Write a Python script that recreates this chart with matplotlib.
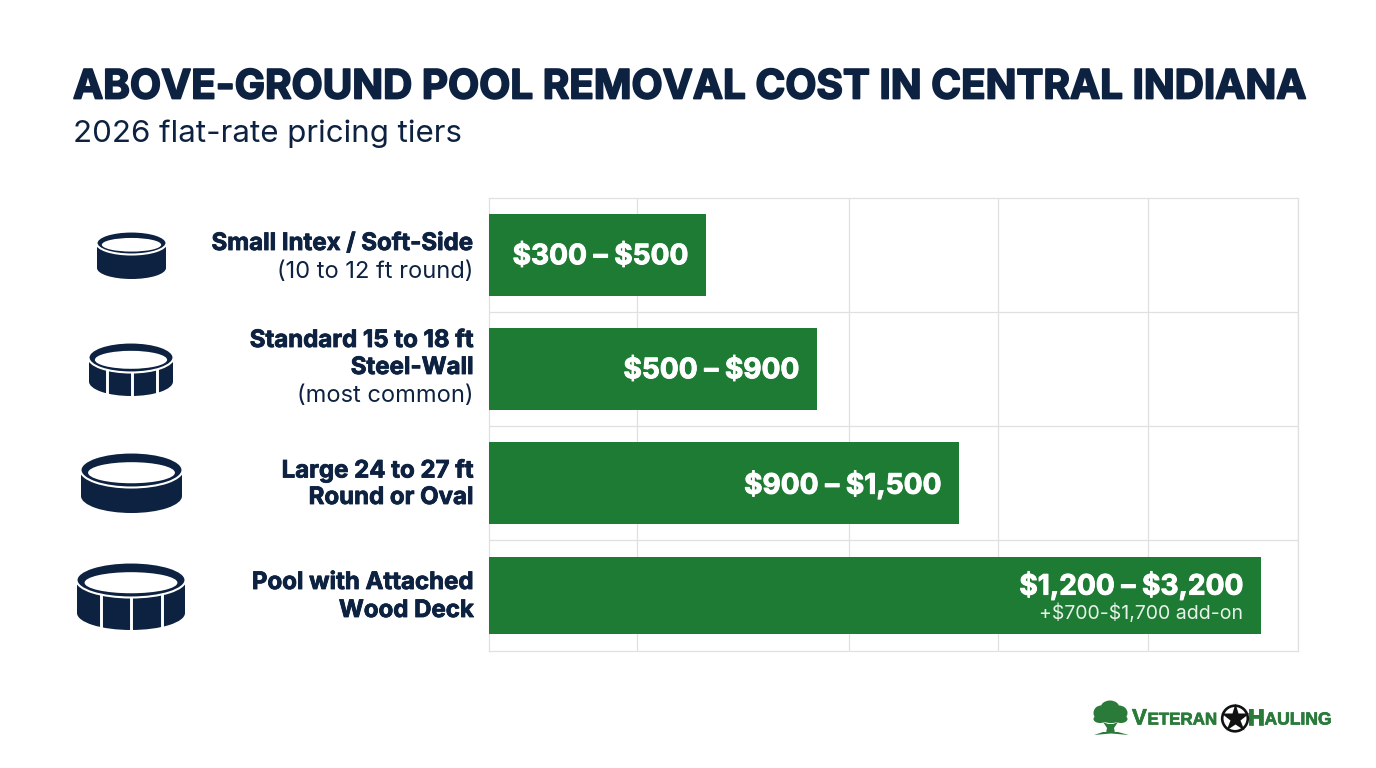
import matplotlib
matplotlib.use("Agg")
import matplotlib.pyplot as plt
import matplotlib.patheffects as pe
from matplotlib.patches import Ellipse, Rectangle, Circle, Polygon

NAVY = "#0D2140"
GREEN = "#1E7B34"
LOGO = "#2A7A3A"
GRID = "#E0E0E0"
plt.rcParams["font.family"] = ["Inter", "Noto Sans", "DejaVu Sans"]
plt.rcParams["text.parse_math"] = False

title = "ABOVE-GROUND POOL REMOVAL COST IN CENTRAL INDIANA"
subtitle = "2026 flat-rate pricing tiers"

# bar lengths on the unlabelled axis, the picture's scale is not linear in dollars
bar_lengths = [217, 328, 470, 772]
row_pos = [0, 1, 2, 2.985]
bar_heights = [0.72, 0.72, 0.72, 0.68]
grid_x = [148, 360, 509, 659, 809]
grid_y = [0.5, 1.5, 2.5]
price_labels = ["$300 – $500", "$500 – $900", "$900 – $1,500", "$1,200 – $3,200"]
addon_label = "+$700-$1,700 add-on"
name_lines = [
    [("Small Intex / Soft-Side", "bold", 244), ("(10 to 12 ft round)", "normal", 272)],
    [("Standard 15 to 18 ft", "bold", 341), ("Steel-Wall", "bold", 368), ("(most common)", "normal", 396)],
    [("Large 24 to 27 ft", "bold", 471), ("Round or Oval", "bold", 498)],
    [("Pool with Attached", "bold", 583), ("Wood Deck", "bold", 611)],
]


def heavy(w, color):
    return [pe.withStroke(linewidth=w, foreground=color)]


fig = plt.figure(figsize=(13.76, 7.68), dpi=100)

# chart area, placed to the pixel
ax = fig.add_axes([489 / 1376, 1 - 651 / 768, 809 / 1376, 453 / 768])
ax.barh(row_pos, bar_lengths, height=bar_heights, color=GREEN, zorder=3)
ax.set_xlim(0, 809)
ax.set_ylim(3.474, -0.5)
ax.set_xticks(grid_x)
ax.set_yticks(grid_y)
ax.grid(True, color=GRID, lw=0.9, zorder=0)
ax.tick_params(length=0, labelbottom=False, labelleft=False)
for s in ax.spines.values():
    s.set_color(GRID)
    s.set_linewidth(0.9)

for i, lab in enumerate(price_labels):
    y = row_pos[i] + 0.015 if i < 3 else row_pos[i] - 0.085
    ax.text(bar_lengths[i] - 18, y, lab, color="white", fontsize=20.2, fontweight="bold",
            ha="right", va="center", zorder=4, path_effects=heavy(0.7, "white"))
ax.text(bar_lengths[3] - 18, row_pos[3] + 0.16, addon_label, color="#E8F2EA",
        fontsize=14, ha="right", va="center", zorder=4)

# overlay in pixel coordinates for the text, icons and logo
ov = fig.add_axes([0, 0, 1, 1], facecolor="none")
ov.set_xlim(0, 1376)
ov.set_ylim(768, 0)
ov.axis("off")

ov.text(73, 88, title, color=NAVY, fontsize=29.1, fontweight="bold", va="center", ha="left",
        path_effects=heavy(1.3, NAVY))
ov.text(73, 134, subtitle, color=NAVY, fontsize=22.5, va="center", ha="left")

for lines in name_lines:
    for txt, weight, y in lines:
        if weight == "bold":
            ov.text(474, y, txt, color=NAVY, fontsize=17.3, fontweight="bold", ha="right", va="center",
                    path_effects=heavy(0.6, NAVY))
        else:
            ov.text(473.5, y, txt, color=NAVY, fontsize=17, ha="right", va="center")


def pool(x0, x1, top, rim_bot, bottom, panels=()):
    cx = (x0 + x1) / 2
    w = x1 - x0
    rim_h = rim_bot - top
    cy = top + rim_h / 2
    ov.add_patch(Ellipse((cx, bottom - rim_h / 2), w, rim_h, fc=NAVY, ec="none"))
    ov.add_patch(Rectangle((x0, cy), w, bottom - rim_h / 2 - cy, fc=NAVY, ec="none"))
    for px in panels:
        ov.plot([px, px], [cy, bottom + 1], color="white", lw=2.1, solid_capstyle="butt")
    ov.add_patch(Ellipse((cx, cy), w + 1, rim_h + 1, fc=NAVY, ec="white", lw=1.5, zorder=3))
    ov.add_patch(Ellipse((cx, cy + rim_h * 0.08), w * 0.86, rim_h * 0.62, fc="white", ec="none", zorder=4))


pool(97, 166, 232, 254, 279)
pool(89, 173, 343, 372, 396, panels=(107, 132, 157))
pool(81, 182, 453, 487, 513)
pool(77, 185, 563, 597, 630, panels=(101, 131, 162))

# logo tree
for (x, y, w, h) in [(1110, 708, 19, 15), (1101, 713, 15, 15), (1119, 713, 17, 15),
                     (1111, 716, 26, 14), (1100, 719, 13, 8), (1121, 719, 13, 8)]:
    ov.add_patch(Ellipse((x, y), w, h, fc=LOGO, ec="none"))
ov.add_patch(Polygon([(1103, 722), (1108, 724), (1113, 724), (1118, 722), (1114, 728), (1115, 733),
                      (1106, 733), (1107, 728)], fc=LOGO, ec="none"))
ov.add_patch(Polygon([(1094, 735), (1103, 732), (1118, 732), (1129, 735), (1111, 733.5)], fc=LOGO, ec="none"))

logo_font = ["Liberation Sans Narrow", "Liberation Sans", "DejaVu Sans"]
logo_fx = heavy(0.5, LOGO)
for x, y, txt, size in [(1132, 719, "V", 16), (1147.5, 720, "ETERAN", 12.2),
                        (1248, 719, "H", 16), (1264.5, 720, "AULING", 12.6)]:
    ov.text(x, y, txt, color=LOGO, fontsize=size, fontweight="bold", family=logo_font, va="center", ha="left",
            path_effects=logo_fx)
ov.add_patch(Circle((1235, 718.5), 12.8, fc="white", ec="#111111", lw=1.9, zorder=3))
ov.plot([1235], [718], marker="*", ms=21, color="#111111", mec="none", zorder=4)

fig.savefig("out.png", dpi=100, facecolor="white")
